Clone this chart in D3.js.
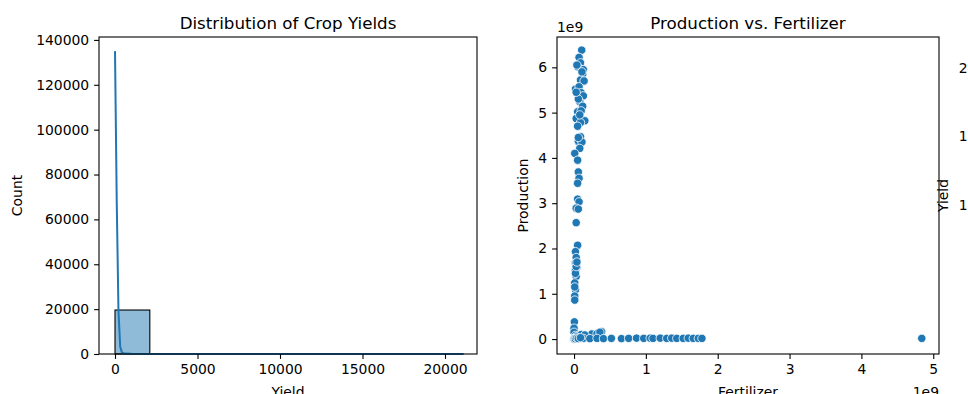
<!DOCTYPE html>
<html>
<head>
<meta charset="utf-8">
<script src="https://cdn.jsdelivr.net/npm/d3@7"></script>
<style>
  html, body { margin: 0; padding: 0; background: #fff; }
  svg { display: block; font-family: "DejaVu Sans", sans-serif; }
  .tick text { fill: #000; }
</style>
</head>
<body>
<svg id="chart" width="968" height="394"></svg>
<script>
// ---------- DATA ----------
// Histogram of Yield (bin edges and counts)
const binEdges = [0, 2110, 4220, 6330, 8440, 10550, 12660, 14770, 16880, 18990, 21100];
const binCounts = [19600, 40, 14, 7, 5, 3, 2, 1, 1, 2];
// KDE curve (scaled to counts)
const kdeYield = [0, 105, 210, 316, 421, 632, 1000, 2000, 5000, 10000, 15000, 21100];
const kdeCount = [135000, 68000, 19000, 3200, 600, 180, 90, 40, 15, 8, 5, 3];
const histYTicks = [0, 20000, 40000, 60000, 80000, 100000, 120000, 140000];
const histXTicks = [0, 5000, 10000, 15000, 20000];

// Scatter: Fertilizer vs Production
const fertilizer = [
  0.107e9, 0.07e9, 0.09e9, 0.05e9, 0.13e9, 0.12e9, 0.09e9, 0.14e9, 0.02e9, 0.07e9,
  0.10e9, 0.13e9, 0.08e9, 0.12e9, 0.05e9, 0.10e9, 0.03e9, 0.15e9, 0.09e9, 0.05e9,
  0.09e9, 0.06e9, 0.11e9, 0.08e9, 0.01e9, 0.05e9, 0.06e9, 0.07e9, 0.05e9, 0.05e9,
  0.07e9, 0.03e9, 0.06e9, 0.03e9, 0.05e9, 0.02e9, 0.03e9, 0.02e9, 0.04e9, 0.02e9,
  0.03e9, 0.01e9, 0.02e9, 0.01e9, 0.01e9, 0.04e9, 0.11e9, 0.06e9, 0.03e9, 0.08e9,
  0.06e9, 0.02e9, 0.01e9, 0.03e9, 0.04e9,
  0.005e9, 0.0, 0.0, 0.02e9, 0.10e9, 0.246e9, 0.32e9, 0.385e9, 0.36e9, 0.15e9, 0.03e9,
  0.005e9, 0.13e9, 0.22e9, 0.32e9, 0.41e9, 0.52e9, 0.66e9, 0.76e9, 0.87e9, 0.97e9,
  1.06e9, 1.10e9, 1.20e9, 1.29e9, 1.36e9, 1.43e9, 1.52e9, 1.59e9, 1.66e9, 1.73e9, 1.78e9,
  0.0, 0.01e9, 0.02e9, 0.04e9, 0.06e9, 0.09e9,
  4.84e9
];
const production = [
  6.38e9, 6.22e9, 6.10e9, 6.01e9, 5.95e9, 5.85e9, 5.72e9, 5.70e9, 5.52e9, 5.57e9,
  5.44e9, 5.37e9, 5.24e9, 5.14e9, 5.02e9, 5.04e9, 4.87e9, 4.82e9, 4.78e9, 4.70e9,
  4.47e9, 4.37e9, 4.35e9, 4.21e9, 4.10e9, 3.95e9, 3.69e9, 3.55e9, 3.44e9, 3.09e9,
  3.03e9, 2.89e9, 2.87e9, 2.57e9, 2.07e9, 1.93e9, 1.80e9, 1.68e9, 1.58e9, 1.52e9,
  1.38e9, 1.24e9, 1.09e9, 0.95e9, 0.86e9, 6.05e9, 5.90e9, 5.30e9, 5.45e9, 4.95e9,
  4.45e9, 1.45e9, 1.15e9, 1.60e9, 1.70e9,
  0.38e9, 0.24e9, 0.15e9, 0.08e9, 0.10e9, 0.11e9, 0.12e9, 0.16e9, 0.15e9, 0.09e9, 0.05e9,
  0.015e9, 0.015e9, 0.01e9, 0.015e9, 0.01e9, 0.015e9, 0.01e9, 0.015e9, 0.02e9, 0.015e9,
  0.02e9, 0.015e9, 0.02e9, 0.015e9, 0.02e9, 0.015e9, 0.015e9, 0.02e9, 0.015e9, 0.015e9, 0.015e9,
  0.0, 0.01e9, 0.005e9, 0.02e9, 0.01e9, 0.03e9,
  0.015e9
];
const scatterXTicks = [0, 1e9, 2e9, 3e9, 4e9, 5e9];
const scatterYTicks = [0, 1e9, 2e9, 3e9, 4e9, 5e9, 6e9];

// Third (cut-off) panel: Yield axis tick labels
const thirdYTicks = [10000, 15000, 20000];

// ---------- LAYOUT ----------
const svg = d3.select("#chart");
const FS = 13.9, TFS = 16.7, TL = 4.9, TP = 4.9;
const blue = "#1f77b4";
const P1 = {x0: 99, x1: 477, y0: 37, y1: 354};
const P2 = {x0: 557, x1: 939, y0: 37, y1: 354};

function styleAxis(g) {
  g.select(".domain").remove();
  g.selectAll(".tick line").attr("stroke", "#000").attr("stroke-width", 1.1);
  g.selectAll(".tick text").attr("font-size", FS).attr("font-family", "DejaVu Sans");
}

// ---------- PANEL 1: histogram ----------
const x1 = d3.scaleLinear().domain([-970, 21940]).range([P1.x0, P1.x1]);
const y1 = d3.scaleLinear().domain([0, 141300]).range([P1.y1, P1.y0]);

const bins = binCounts.map((c, i) => ({x0: binEdges[i], x1: binEdges[i + 1], c}));
svg.append("g").selectAll("rect").data(bins).join("rect")
  .attr("x", d => x1(d.x0))
  .attr("width", d => x1(d.x1) - x1(d.x0))
  .attr("y", d => y1(d.c))
  .attr("height", d => y1(0) - y1(d.c))
  .attr("fill", blue).attr("fill-opacity", 0.5)
  .attr("stroke", "#000").attr("stroke-width", 1.1);

svg.append("path")
  .datum(kdeYield.map((v, i) => [v, kdeCount[i]]))
  .attr("fill", "none").attr("stroke", blue).attr("stroke-width", 2)
  .attr("d", d3.line().x(d => x1(d[0])).y(d => y1(d[1])));

svg.append("rect").attr("x", P1.x0).attr("y", P1.y0)
  .attr("width", P1.x1 - P1.x0).attr("height", P1.y1 - P1.y0)
  .attr("fill", "none").attr("stroke", "#000").attr("stroke-width", 1.1);

svg.append("g").attr("transform", `translate(${P1.x0},0)`)
  .call(d3.axisLeft(y1).tickValues(histYTicks).tickFormat(d3.format("d")).tickSize(TL).tickPadding(TP))
  .call(styleAxis);
svg.append("g").attr("transform", `translate(0,${P1.y1})`)
  .call(d3.axisBottom(x1).tickValues(histXTicks).tickFormat(d3.format("d")).tickSize(TL).tickPadding(TP))
  .call(styleAxis);

svg.append("text").attr("x", (P1.x0 + P1.x1) / 2).attr("y", 28.5)
  .attr("text-anchor", "middle").attr("font-size", TFS).text("Distribution of Crop Yields");
svg.append("text").attr("x", (P1.x0 + P1.x1) / 2).attr("y", 396.5)
  .attr("text-anchor", "middle").attr("font-size", FS).text("Yield");
svg.append("text").attr("transform", `translate(22,${(P1.y0 + P1.y1) / 2}) rotate(-90)`)
  .attr("text-anchor", "middle").attr("font-size", FS).text("Count");

// ---------- PANEL 2: scatter ----------
const x2 = d3.scaleLinear().domain([-0.237e9, 5.08e9]).range([P2.x0, P2.x1]);
const y2 = d3.scaleLinear().domain([-0.33e9, 6.67e9]).range([P2.y1, P2.y0]);

svg.append("g").selectAll("circle").data(fertilizer.map((f, i) => [f, production[i]])).join("circle")
  .attr("cx", d => x2(d[0])).attr("cy", d => y2(d[1])).attr("r", 4.2)
  .attr("fill", blue).attr("stroke", "#fff").attr("stroke-width", 0.8);

svg.append("rect").attr("x", P2.x0).attr("y", P2.y0)
  .attr("width", P2.x1 - P2.x0).attr("height", P2.y1 - P2.y0)
  .attr("fill", "none").attr("stroke", "#000").attr("stroke-width", 1.1);

svg.append("g").attr("transform", `translate(${P2.x0},0)`)
  .call(d3.axisLeft(y2).tickValues(scatterYTicks).tickFormat(d => d / 1e9).tickSize(TL).tickPadding(TP))
  .call(styleAxis);
svg.append("g").attr("transform", `translate(0,${P2.y1})`)
  .call(d3.axisBottom(x2).tickValues(scatterXTicks).tickFormat(d => d / 1e9).tickSize(TL).tickPadding(TP))
  .call(styleAxis);

svg.append("text").attr("x", (P2.x0 + P2.x1) / 2).attr("y", 28.5)
  .attr("text-anchor", "middle").attr("font-size", TFS).text("Production vs. Fertilizer");
svg.append("text").attr("x", (P2.x0 + P2.x1) / 2).attr("y", 396.5)
  .attr("text-anchor", "middle").attr("font-size", FS).text("Fertilizer");
svg.append("text").attr("transform", `translate(528,${(P2.y0 + P2.y1) / 2}) rotate(-90)`)
  .attr("text-anchor", "middle").attr("font-size", FS).text("Production");
svg.append("text").attr("x", P2.x0).attr("y", 32)
  .attr("font-size", FS).text("1e9");
svg.append("text").attr("x", P2.x1).attr("y", 396.5)
  .attr("text-anchor", "end").attr("font-size", FS).text("1e9");

// ---------- PANEL 3 (cut off at the right edge) ----------
const y3 = d3.scaleLinear().domain([-950, 22300]).range([P2.y1, P2.y0]);
svg.append("g").selectAll("text").data(thirdYTicks).join("text")
  .attr("x", 1003).attr("y", d => y3(d)).attr("dy", "0.35em")
  .attr("text-anchor", "end").attr("font-size", FS).text(d => d);
svg.append("text").attr("transform", `translate(948,${(P2.y0 + P2.y1) / 2}) rotate(-90)`)
  .attr("text-anchor", "middle").attr("font-size", FS).text("Yield");
</script>
</body>
</html>
